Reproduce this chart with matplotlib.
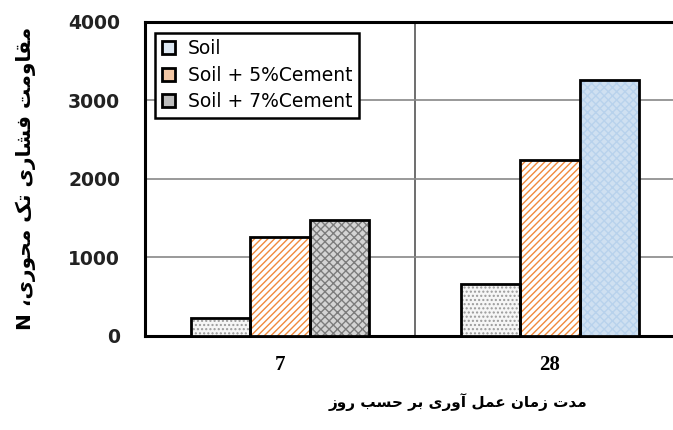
import matplotlib.pyplot as plt
import numpy as np
from matplotlib.patches import Patch

plt.rcParams['hatch.linewidth'] = 1.0

# data
days = ['7', '28']
series = ['Soil', 'Soil + 5%Cement', 'Soil + 7%Cement']
soil = [225, 655]
cem5 = [1255, 2245]
cem7 = [1470, 3255]
ylabel_fa = 'مقاومت فشاری تک محوری، N'
xlabel_fa = 'مدت زمان عمل آوری بر حسب روز'

# simple persian shaping (matplotlib has no arabic shaping)
FORMS = {
    'ا': ('\uFE8D', '\uFE8E', None, None),
    'آ': ('\uFE81', '\uFE82', None, None),
    'ب': ('\uFE8F', '\uFE90', '\uFE91', '\uFE92'),
    'ت': ('\uFE95', '\uFE96', '\uFE97', '\uFE98'),
    'ح': ('\uFEA1', '\uFEA2', '\uFEA3', '\uFEA4'),
    'د': ('\uFEA9', '\uFEAA', None, None),
    'ر': ('\uFEAD', '\uFEAE', None, None),
    'ز': ('\uFEAF', '\uFEB0', None, None),
    'س': ('\uFEB1', '\uFEB2', '\uFEB3', '\uFEB4'),
    'ش': ('\uFEB5', '\uFEB6', '\uFEB7', '\uFEB8'),
    'ع': ('\uFEC9', '\uFECA', '\uFECB', '\uFECC'),
    'ف': ('\uFED1', '\uFED2', '\uFED3', '\uFED4'),
    'ق': ('\uFED5', '\uFED6', '\uFED7', '\uFED8'),
    'ل': ('\uFEDD', '\uFEDE', '\uFEDF', '\uFEE0'),
    'م': ('\uFEE1', '\uFEE2', '\uFEE3', '\uFEE4'),
    'ن': ('\uFEE5', '\uFEE6', '\uFEE7', '\uFEE8'),
    'و': ('\uFEED', '\uFEEE', None, None),
    'ک': ('\uFB8E', '\uFB8F', '\uFB90', '\uFB91'),
    'ی': ('\uFBFC', '\uFBFD', '\uFBFE', '\uFBFF'),
}


def shape(txt):
    out = []
    for i, c in enumerate(txt):
        if c not in FORMS:
            out.append(c)
            continue
        prev = txt[i - 1] if i > 0 else ''
        nxt = txt[i + 1] if i + 1 < len(txt) else ''
        jp = prev in FORMS and FORMS[prev][2] is not None
        jn = nxt in FORMS and FORMS[c][2] is not None
        iso, fin, ini, med = FORMS[c]
        if jp and jn:
            out.append(med)
        elif jp:
            out.append(fin)
        elif jn:
            out.append(ini)
        else:
            out.append(iso)
    return ''.join(out[::-1])


fig = plt.figure(figsize=(6.73, 4.30), dpi=100)
ax = fig.add_axes([0.2155, 0.219, 0.7845, 0.730])

x = np.arange(len(days))
w = 0.22
fills = [
    (soil, ['#f6f6f6', '#f6f6f6'], ['#9a9a9a', '#9a9a9a'], '....'),
    (cem5, ['#ffffff', '#ffffff'], ['#f08a3c', '#f08a3c'], '/////'),
    (cem7, ['#d4d4d4', '#cfe0f1'], ['#7c7c7c', '#b8d2ec'], 'xxxx'),
]
for k, (vals, fc, hc, h) in enumerate(fills):
    pos = x + (k - 1) * w
    for j in range(len(days)):
        ax.bar(pos[j], vals[j], w, color=fc[j], edgecolor=hc[j], hatch=h,
               linewidth=0, zorder=3)
    ax.bar(pos, vals, w, fill=False, edgecolor='black', linewidth=2, zorder=4)

ax.set_xlim(-0.5, 1.456)
ax.set_ylim(0, 4000)
ax.set_yticks([0, 1000, 2000, 3000, 4000])
ax.set_yticklabels(['0', '1000', '2000', '3000', '4000'], fontweight='bold',
                   fontsize=13.5, color='#222222')
ax.set_xticks(x)
ax.set_xticklabels(days, family='Liberation Serif', fontweight='bold',
                   fontsize=15)
ax.tick_params(axis='both', length=0)
ax.tick_params(axis='y', pad=18)
ax.tick_params(axis='x', pad=14)

ax.yaxis.grid(True, color='#888888', linewidth=1.2, zorder=0)
ax.axvline(0.5, color='#555555', linewidth=1.2, zorder=1)
for s in ['left', 'bottom', 'top']:
    ax.spines[s].set_linewidth(2.2)
ax.spines['right'].set_visible(False)

ax.set_ylabel(shape(ylabel_fa), family='DejaVu Sans', fontweight='bold',
              fontsize=14.5)
ax.yaxis.set_label_coords(-0.226, 0.5)
ax.yaxis.label.set_verticalalignment('center')
ax.set_xlabel(shape(xlabel_fa), family='DejaVu Sans', fontweight='bold',
              fontsize=11)
ax.xaxis.set_label_coords(0.593, -0.21)
ax.xaxis.label.set_verticalalignment('center')

handles = [
    Patch(facecolor='#dde8f3', edgecolor='black', linewidth=2),
    Patch(facecolor='#f3c7a4', edgecolor='black', linewidth=2),
    Patch(facecolor='#bdbdbd', edgecolor='black', linewidth=2),
]
leg = ax.legend(handles, series, loc='upper left', bbox_to_anchor=(0.019, 0.965),
                fontsize=13.5, handlelength=0.7, handleheight=0.7,
                handletextpad=0.7, labelspacing=0.4, borderpad=0.35,
                borderaxespad=0, fancybox=False, framealpha=1,
                edgecolor='black')
leg.get_frame().set_linewidth(1.8)
leg.set_zorder(6)

fig.savefig('out.png', dpi=100)
